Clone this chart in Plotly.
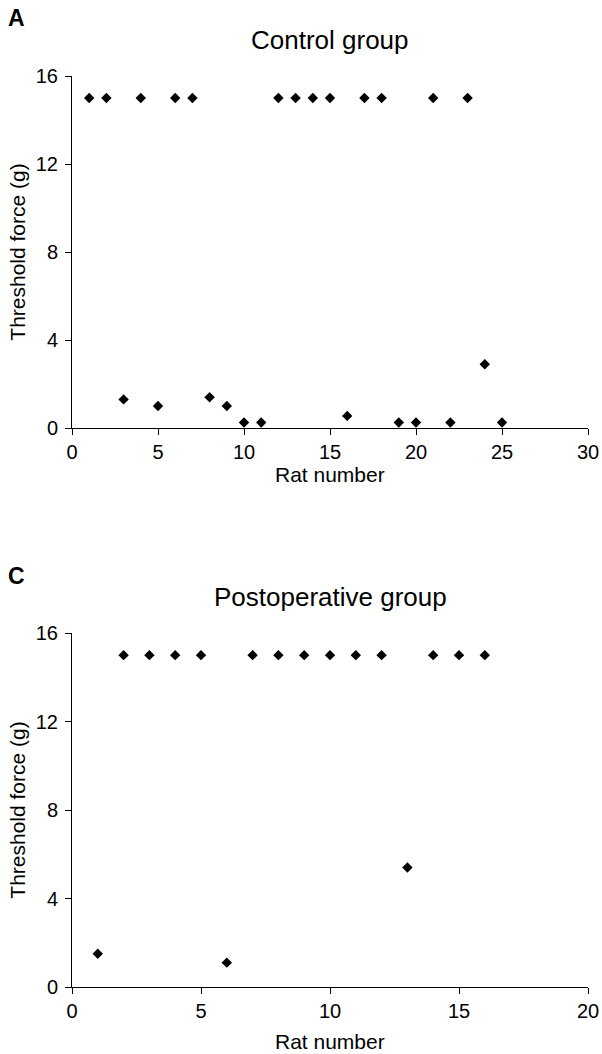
import plotly.graph_objects as go

# Control group data
control_rat = list(range(1, 26))
control_force = [15, 15, 1.3, 15, 1.0, 15, 15, 1.4, 1.0, 0.25, 0.25, 15, 15, 15, 15,
                 0.55, 15, 15, 0.25, 0.25, 15, 0.25, 15, 2.9, 0.25]

# Postoperative group data
postop_rat = list(range(1, 17))
postop_force = [1.5, 15, 15, 15, 15, 1.1, 15, 15, 15, 15, 15, 15, 5.4, 15, 15, 15]

y_ticks = [0, 4, 8, 12, 16]
titles = ["Control group", "Postoperative group"]
panel_labels = ["A", "C"]
x_title = "Rat number"
y_title = "Threshold force (g)"

W, H = 602, 1054
FONT = "Liberation Sans, Arial, sans-serif"

fig = go.Figure()

fig.add_trace(go.Scatter(x=control_rat, y=control_force, mode="markers",
                         marker=dict(symbol="diamond", size=8, color="black"),
                         xaxis="x", yaxis="y", showlegend=False, hoverinfo="skip"))
fig.add_trace(go.Scatter(x=postop_rat, y=postop_force, mode="markers",
                         marker=dict(symbol="diamond", size=8, color="black"),
                         xaxis="x2", yaxis="y2", showlegend=False, hoverinfo="skip"))

def py(pix):
    return 1 - pix / H

axis_common = dict(showline=True, linecolor="black", linewidth=1, ticks="outside",
                   ticklen=6, tickcolor="black", tickwidth=1, showgrid=False,
                   zeroline=False, automargin=False,
                   tickfont=dict(family=FONT, size=20, color="black"))
title_font = dict(family=FONT, size=21, color="black")

fig.update_layout(
    width=W, height=H,
    margin=dict(l=72, r=14, t=0, b=0),
    paper_bgcolor="white", plot_bgcolor="white",
    xaxis=dict(domain=[0, 1], range=[0, 30], tickvals=[0, 5, 10, 15, 20, 25, 30],
               anchor="y", **axis_common),
    yaxis=dict(domain=[py(428), py(76)], range=[0, 16], tickvals=y_ticks, anchor="x",
               ticklabelstandoff=3,
               title=dict(text=y_title, font=title_font, standoff=4),
               **axis_common),
    xaxis2=dict(domain=[0, 1], range=[0, 20], tickvals=[0, 5, 10, 15, 20],
                anchor="y2", **axis_common),
    yaxis2=dict(domain=[py(987), py(633)], range=[0, 16], tickvals=y_ticks, anchor="x2",
                ticklabelstandoff=3,
                title=dict(text=y_title, font=title_font, standoff=4),
                **axis_common),
)

# Titles
for t, ypix in zip(titles, [40, 597]):
    fig.add_annotation(text=t, xref="paper", yref="paper", x=(330 - 72) / (W - 86),
                       y=py(ypix), xanchor="center", yanchor="middle", showarrow=False,
                       font=dict(family=FONT, size=26, color="black"))

# X axis titles
for ypix in [474, 1041]:
    fig.add_annotation(text=x_title, xref="paper", yref="paper", x=0.5,
                       y=py(ypix), xanchor="center", yanchor="middle", showarrow=False,
                       font=title_font)

# Panel labels
for t, ypix in zip(panel_labels, [18, 576]):
    fig.add_annotation(text="<b>%s</b>" % t, xref="paper", yref="paper", x=(6 - 72) / (W - 86),
                       y=py(ypix), xanchor="left", yanchor="middle", showarrow=False,
                       font=dict(family=FONT, size=23, color="black"))

fig.write_html("out.html", config={"displayModeBar": False},
               post_script="document.documentElement.style.margin='0';document.body.style.margin='0';"
                           "document.body.style.padding='0';document.body.style.overflow='hidden';")
